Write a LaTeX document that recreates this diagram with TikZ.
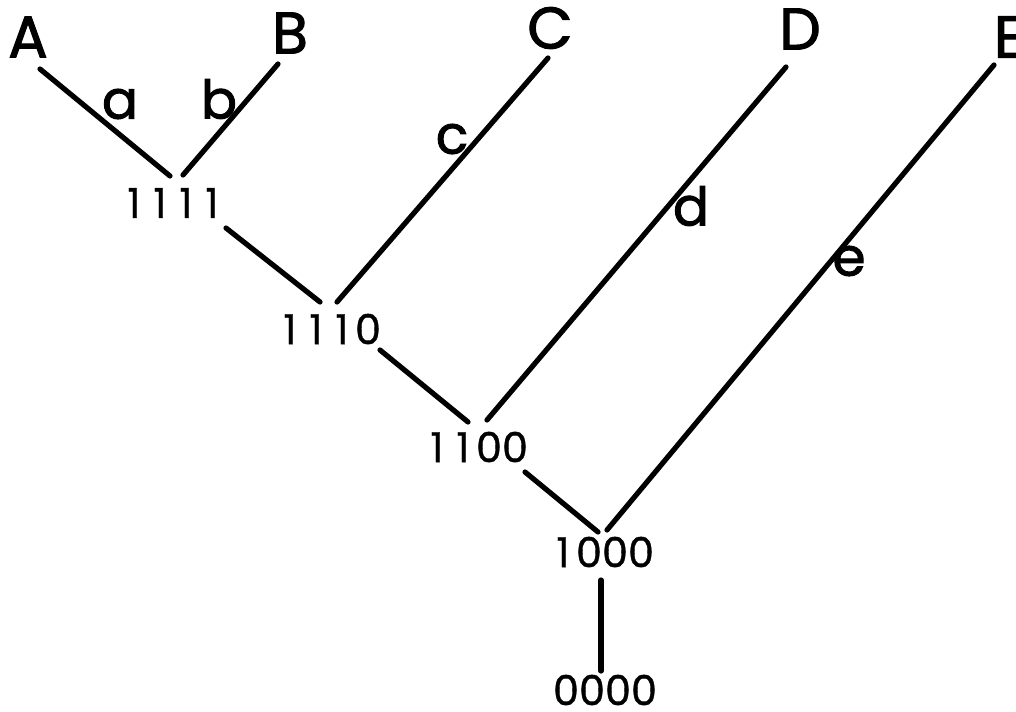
\documentclass[tikz,border=0pt]{standalone}
\usepackage{fontspec}
\setmainfont{Poppins}
\newfontfamily\leaffont{Poppins}[FakeBold=1.8]
\newfontfamily\codefont{Poppins}[FakeBold=0.8]
\newcommand\tdig[1]{\makebox[19.5pt][c]{#1}}
\begin{document}
\begin{tikzpicture}[x=0.75pt,y=-0.75pt,
  edge/.style={line width=3.9pt,line cap=round},
  leaf/.style={font=\leaffont\fontsize{44}{44}\selectfont,inner sep=0pt},
  blabel/.style={font=\leaffont\fontsize{40}{40}\selectfont,inner sep=0pt},
  code/.style={font=\codefont\fontsize{31}{31}\selectfont,inner sep=0pt}]
\useasboundingbox (0,0) rectangle (1016,711);
% leaf labels
\node[leaf] (A) at (28,37) {A};
\node[leaf] (B) at (290,33) {B};
\node[leaf] (C) at (550,28) {C};
\node[leaf] (D) at (800,29) {D};
\node[leaf] (E) at (1009,37) {E};
% branch labels
\node[blabel] (la) at (120,104) {a};
\node[blabel] (lb) at (219,99) {b};
\node[blabel] (lc) at (452,139) {c};
\node[blabel] (ld) at (691,206) {d};
\node[blabel] (le) at (849,261) {e};
% codes
\node[code] (n1111) at (173,203) {\tdig1\tdig1\tdig1\tdig1};
\node[code] (n1110) at (329,329) {\tdig1\tdig1\tdig1\tdig0};
\node[code] (n1100) at (476,447) {\tdig1\tdig1\tdig0\tdig0};
\node[code] (n1000) at (602,552) {\tdig1\tdig0\tdig0\tdig0};
\node[code] (n0000) at (605,690) {\tdig0\tdig0\tdig0\tdig0};
% end points
\coordinate (Aend) at (40,69);
\coordinate (Bend) at (278,64);
\coordinate (Cend) at (548,58);
\coordinate (Dend) at (786,67);
\coordinate (Eend) at (994,65);
\coordinate (a1111) at (170,176);
\coordinate (b1111) at (183,175);
\coordinate (o1111) at (226,228);
\coordinate (i1110a) at (320,302);
\coordinate (i1110c) at (337,302);
\coordinate (o1110) at (380,350);
\coordinate (i1100a) at (468,422);
\coordinate (i1100d) at (487,420);
\coordinate (o1100) at (525,472);
\coordinate (i1000a) at (598,532);
\coordinate (i1000e) at (607,530);
\coordinate (o1000) at (601,580);
\coordinate (i0000) at (601,671);
% connectors
\draw[edge] (Aend) -- (a1111);
\draw[edge] (Bend) -- (b1111);
\draw[edge] (o1111) -- (i1110a);
\draw[edge] (Cend) -- (i1110c);
\draw[edge] (o1110) -- (i1100a);
\draw[edge] (Dend) -- (i1100d);
\draw[edge] (o1100) -- (i1000a);
\draw[edge] (Eend) -- (i1000e);
\draw[edge] (o1000) -- (i0000);
\end{tikzpicture}
\end{document}
